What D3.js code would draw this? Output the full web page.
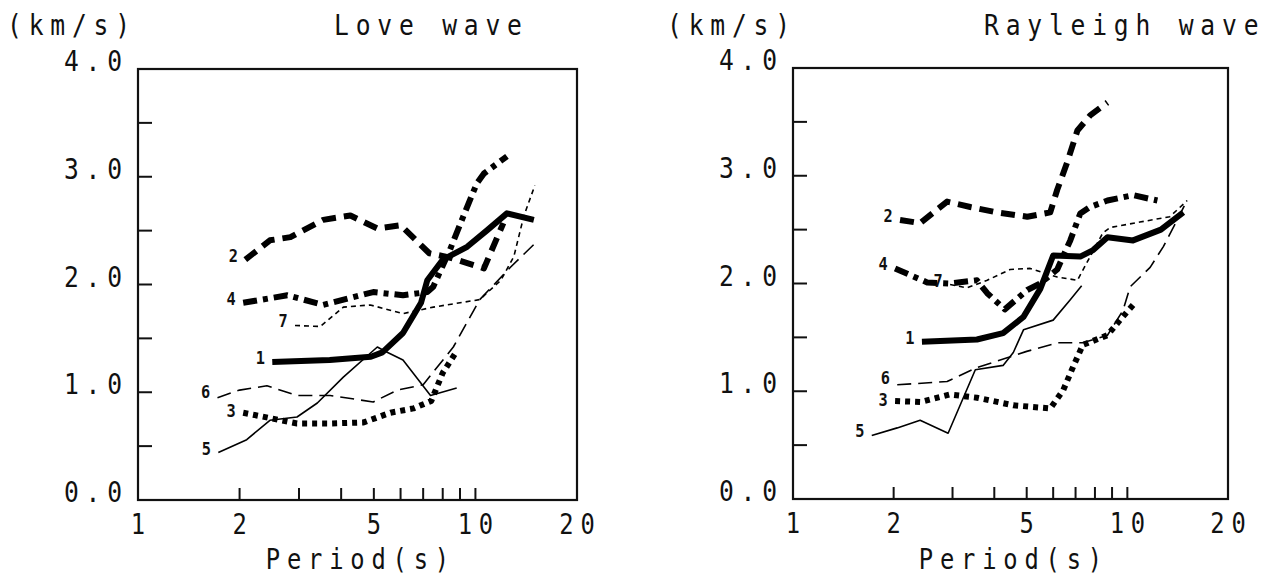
<!DOCTYPE html>
<html>
<head>
<meta charset="utf-8">
<script src="https://cdn.jsdelivr.net/npm/d3@7"></script>
<style>
  body { margin: 0; background: #fff; }
  svg { display: block; }
</style>
</head>
<body>
<div id="chart"></div>
<script>
// periods (s) and group velocities (km/s)
const loveCurve1 = [[2.5,1.28],[3.7,1.30],[4.9,1.33],[5.3,1.37],[6.1,1.55],[6.9,1.83],[7.2,2.04],[8.0,2.23],[9.45,2.35],[10.8,2.5],[12.4,2.66],[14.9,2.6]];
const loveCurve2 = [[2.08,2.23],[2.46,2.41],[2.83,2.44],[3.54,2.60],[4.26,2.64],[5.12,2.52],[6.0,2.55],[7.3,2.29],[8.4,2.25],[10.6,2.15],[12.1,2.57]];
const loveCurve3 = [[2.05,0.81],[2.46,0.76],[2.96,0.71],[3.71,0.71],[4.66,0.72],[5.6,0.81],[6.55,0.85],[7.4,0.92],[8.0,1.18],[8.8,1.38]];
const loveCurve4 = [[2.05,1.83],[2.77,1.90],[3.54,1.81],[4.98,1.93],[6.1,1.90],[7.2,1.93],[7.5,1.98],[8.4,2.32],[9.2,2.63],[10.1,2.94],[10.6,3.03],[12.4,3.19]];
const loveCurve5 = [[1.73,0.44],[2.1,0.56],[2.46,0.74],[2.96,0.77],[3.4,0.9],[4.06,1.14],[5.12,1.42],[5.4,1.38],[6.1,1.3],[7.36,0.97],[8.8,1.04]];
const loveCurve6 = [[1.72,0.95],[2.0,1.02],[2.41,1.06],[2.96,0.97],[3.71,0.97],[4.98,0.91],[5.87,1.02],[7.0,1.07],[8.6,1.42],[10.3,1.86],[12.7,2.16],[15.0,2.38]];
const loveCurve7 = [[2.92,1.62],[3.47,1.61],[4.06,1.79],[4.88,1.81],[6.1,1.73],[7.5,1.79],[10.3,1.86],[11.9,2.04],[13.0,2.26],[13.9,2.63],[15.0,2.92]];

const rayCurve1 = [[2.43,1.46],[3.55,1.48],[4.25,1.54],[4.89,1.69],[5.49,1.95],[6.0,2.26],[7.23,2.25],[7.9,2.31],[8.72,2.43],[10.4,2.40],[12.6,2.50],[14.7,2.66]];
const rayCurve2 = [[2.09,2.59],[2.4,2.56],[2.89,2.76],[3.39,2.71],[4.08,2.66],[5.02,2.62],[5.88,2.66],[6.17,2.87],[6.6,3.12],[7.09,3.42],[7.74,3.56],[8.72,3.68]];
const rayCurve3 = [[2.02,0.91],[2.4,0.90],[2.95,0.97],[3.55,0.94],[4.56,0.87],[5.88,0.84],[6.43,1.01],[6.89,1.23],[7.36,1.43],[8.72,1.52],[9.5,1.66],[10.4,1.80]];
const rayCurve4 = [[2.02,2.14],[2.52,2.01],[2.95,2.00],[3.55,2.03],[3.81,1.91],[4.3,1.76],[5.02,1.94],[5.49,2.00],[6.17,2.13],[6.75,2.40],[7.23,2.65],[7.74,2.71],[8.72,2.77],[10.4,2.82],[12.3,2.77]];
const rayCurve5 = [[1.72,0.59],[2.05,0.66],[2.4,0.73],[2.91,0.61],[3.51,1.20],[4.25,1.24],[4.56,1.36],[4.89,1.57],[6.0,1.66],[6.75,1.85],[7.3,1.98]];
const rayCurve6 = [[2.05,1.06],[2.89,1.09],[3.55,1.22],[4.37,1.31],[5.0,1.37],[6.2,1.45],[7.36,1.45],[8.72,1.52],[9.7,1.75],[10.2,1.97],[11.7,2.15],[12.8,2.34],[14.1,2.59],[14.8,2.72]];
const rayCurve7 = [[2.95,1.99],[3.32,1.96],[3.81,2.03],[4.46,2.13],[5.12,2.14],[6.17,2.06],[7.09,2.03],[7.74,2.25],[8.45,2.47],[8.9,2.52],[10.9,2.57],[13.4,2.62],[15.1,2.77]];

const curveNames = ["1","2","3","4","5","6","7"];
const yTickLabels = ["0.0","1.0","2.0","3.0","4.0"];
const xTickLabels = ["1","2","5","10","20"];
const xMinorTicks = [2,3,4,5,6,7,8,9,10];

// line styles per curve number
const estilos = {
  "1": { w: 6, dash: null },
  "2": { w: 6, dash: "14,8" },
  "3": { w: 6, dash: "5,5" },
  "4": { w: 6, dash: "14,6,5,6" },
  "5": { w: 1.6, dash: null },
  "6": { w: 1.6, dash: "14,7" },
  "7": { w: 1.6, dash: "5,4" }
};

const fuente = "DejaVu Sans Mono";
const escalaX = 0.85, espacio = 8;

const $svg = d3.select("#chart").append("svg")
  .attr("width", 1269).attr("height", 577);

// plotter-like text: narrow glyphs, wide spacing
const texto = (g, x, y, str, size, anchor, ls = espacio) => {
  let dx = 0;
  if (anchor === "end") dx = ls * escalaX;
  if (anchor === "middle") dx = ls * escalaX / 2;
  return g.append("text")
    .attr("transform", `translate(${x + dx},${y}) scale(${escalaX},1)`)
    .attr("font-family", fuente)
    .attr("font-size", size)
    .attr("letter-spacing", ls)
    .attr("text-anchor", anchor)
    .attr("fill", "#111")
    .text(str);
};

const panel = (conf) => {
  const x = d3.scaleLog().domain([1, 20]).range([conf.x0, conf.x1]);
  const y = d3.scaleLinear().domain([0, 4]).range([conf.yb, conf.yt]);
  const g = $svg.append("g");

  // box
  g.append("rect")
    .attr("x", conf.x0).attr("y", conf.yt)
    .attr("width", conf.x1 - conf.x0).attr("height", conf.yb - conf.yt)
    .attr("fill", "none").attr("stroke", "#111").attr("stroke-width", 2.2);

  // y ticks inward
  g.selectAll(".yt").data(d3.range(0.5, 4, 0.5)).join("line")
    .attr("x1", conf.x0).attr("x2", conf.x0 + 14)
    .attr("y1", d => y(d)).attr("y2", d => y(d))
    .attr("stroke", "#111").attr("stroke-width", 2);

  // x ticks inward
  g.selectAll(".xt").data(xMinorTicks).join("line")
    .attr("x1", d => x(d)).attr("x2", d => x(d))
    .attr("y1", conf.yb).attr("y2", conf.yb - 12)
    .attr("stroke", "#111").attr("stroke-width", 2);

  yTickLabels.forEach(t => {
    texto(g, conf.x0 - 16, y(+t) + 2, t, 29, "end");
  });
  xTickLabels.forEach(t => {
    texto(g, x(+t), conf.yb + 34, t, 28, "middle");
  });

  texto(g, conf.unitX, 35, "(km/s)", 29, "start");
  texto(g, conf.titleX, 35, conf.title, 29, "start");
  texto(g, (conf.x0 + conf.x1) / 2, 569, "Period(s)", 28, "middle");

  const linea = d3.line().x(d => x(d[0])).y(d => y(d[1]));

  conf.curvas.forEach((datos, i) => {
    const nombre = curveNames[i];
    const est = estilos[nombre];
    g.append("path")
      .attr("d", linea(datos))
      .attr("fill", "none")
      .attr("stroke", "#000")
      .attr("stroke-width", est.w)
      .attr("stroke-dasharray", est.dash)
      .attr("stroke-linejoin", "round");
    const p0 = datos[0];
    texto(g, x(p0[0]) - 12, y(p0[1]) + 2 + conf.etiquetaDy[i], nombre, 18, "middle", 0)
      .attr("font-weight", "bold");
  });
};

panel({
  x0: 138, x1: 577, yt: 69, yb: 500,
  unitX: 7, titleX: 334, title: "Love wave",
  etiquetaDy: [0, 0, 2, 0, 0, -2, 0],
  curvas: [loveCurve1, loveCurve2, loveCurve3, loveCurve4, loveCurve5, loveCurve6, loveCurve7]
});

panel({
  x0: 793, x1: 1228, yt: 68, yb: 499,
  unitX: 667, titleX: 984, title: "Rayleigh wave",
  etiquetaDy: [0, 0, 3, 0, 0, -3, 0],
  curvas: [rayCurve1, rayCurve2, rayCurve3, rayCurve4, rayCurve5, rayCurve6, rayCurve7]
});
</script>
</body>
</html>
